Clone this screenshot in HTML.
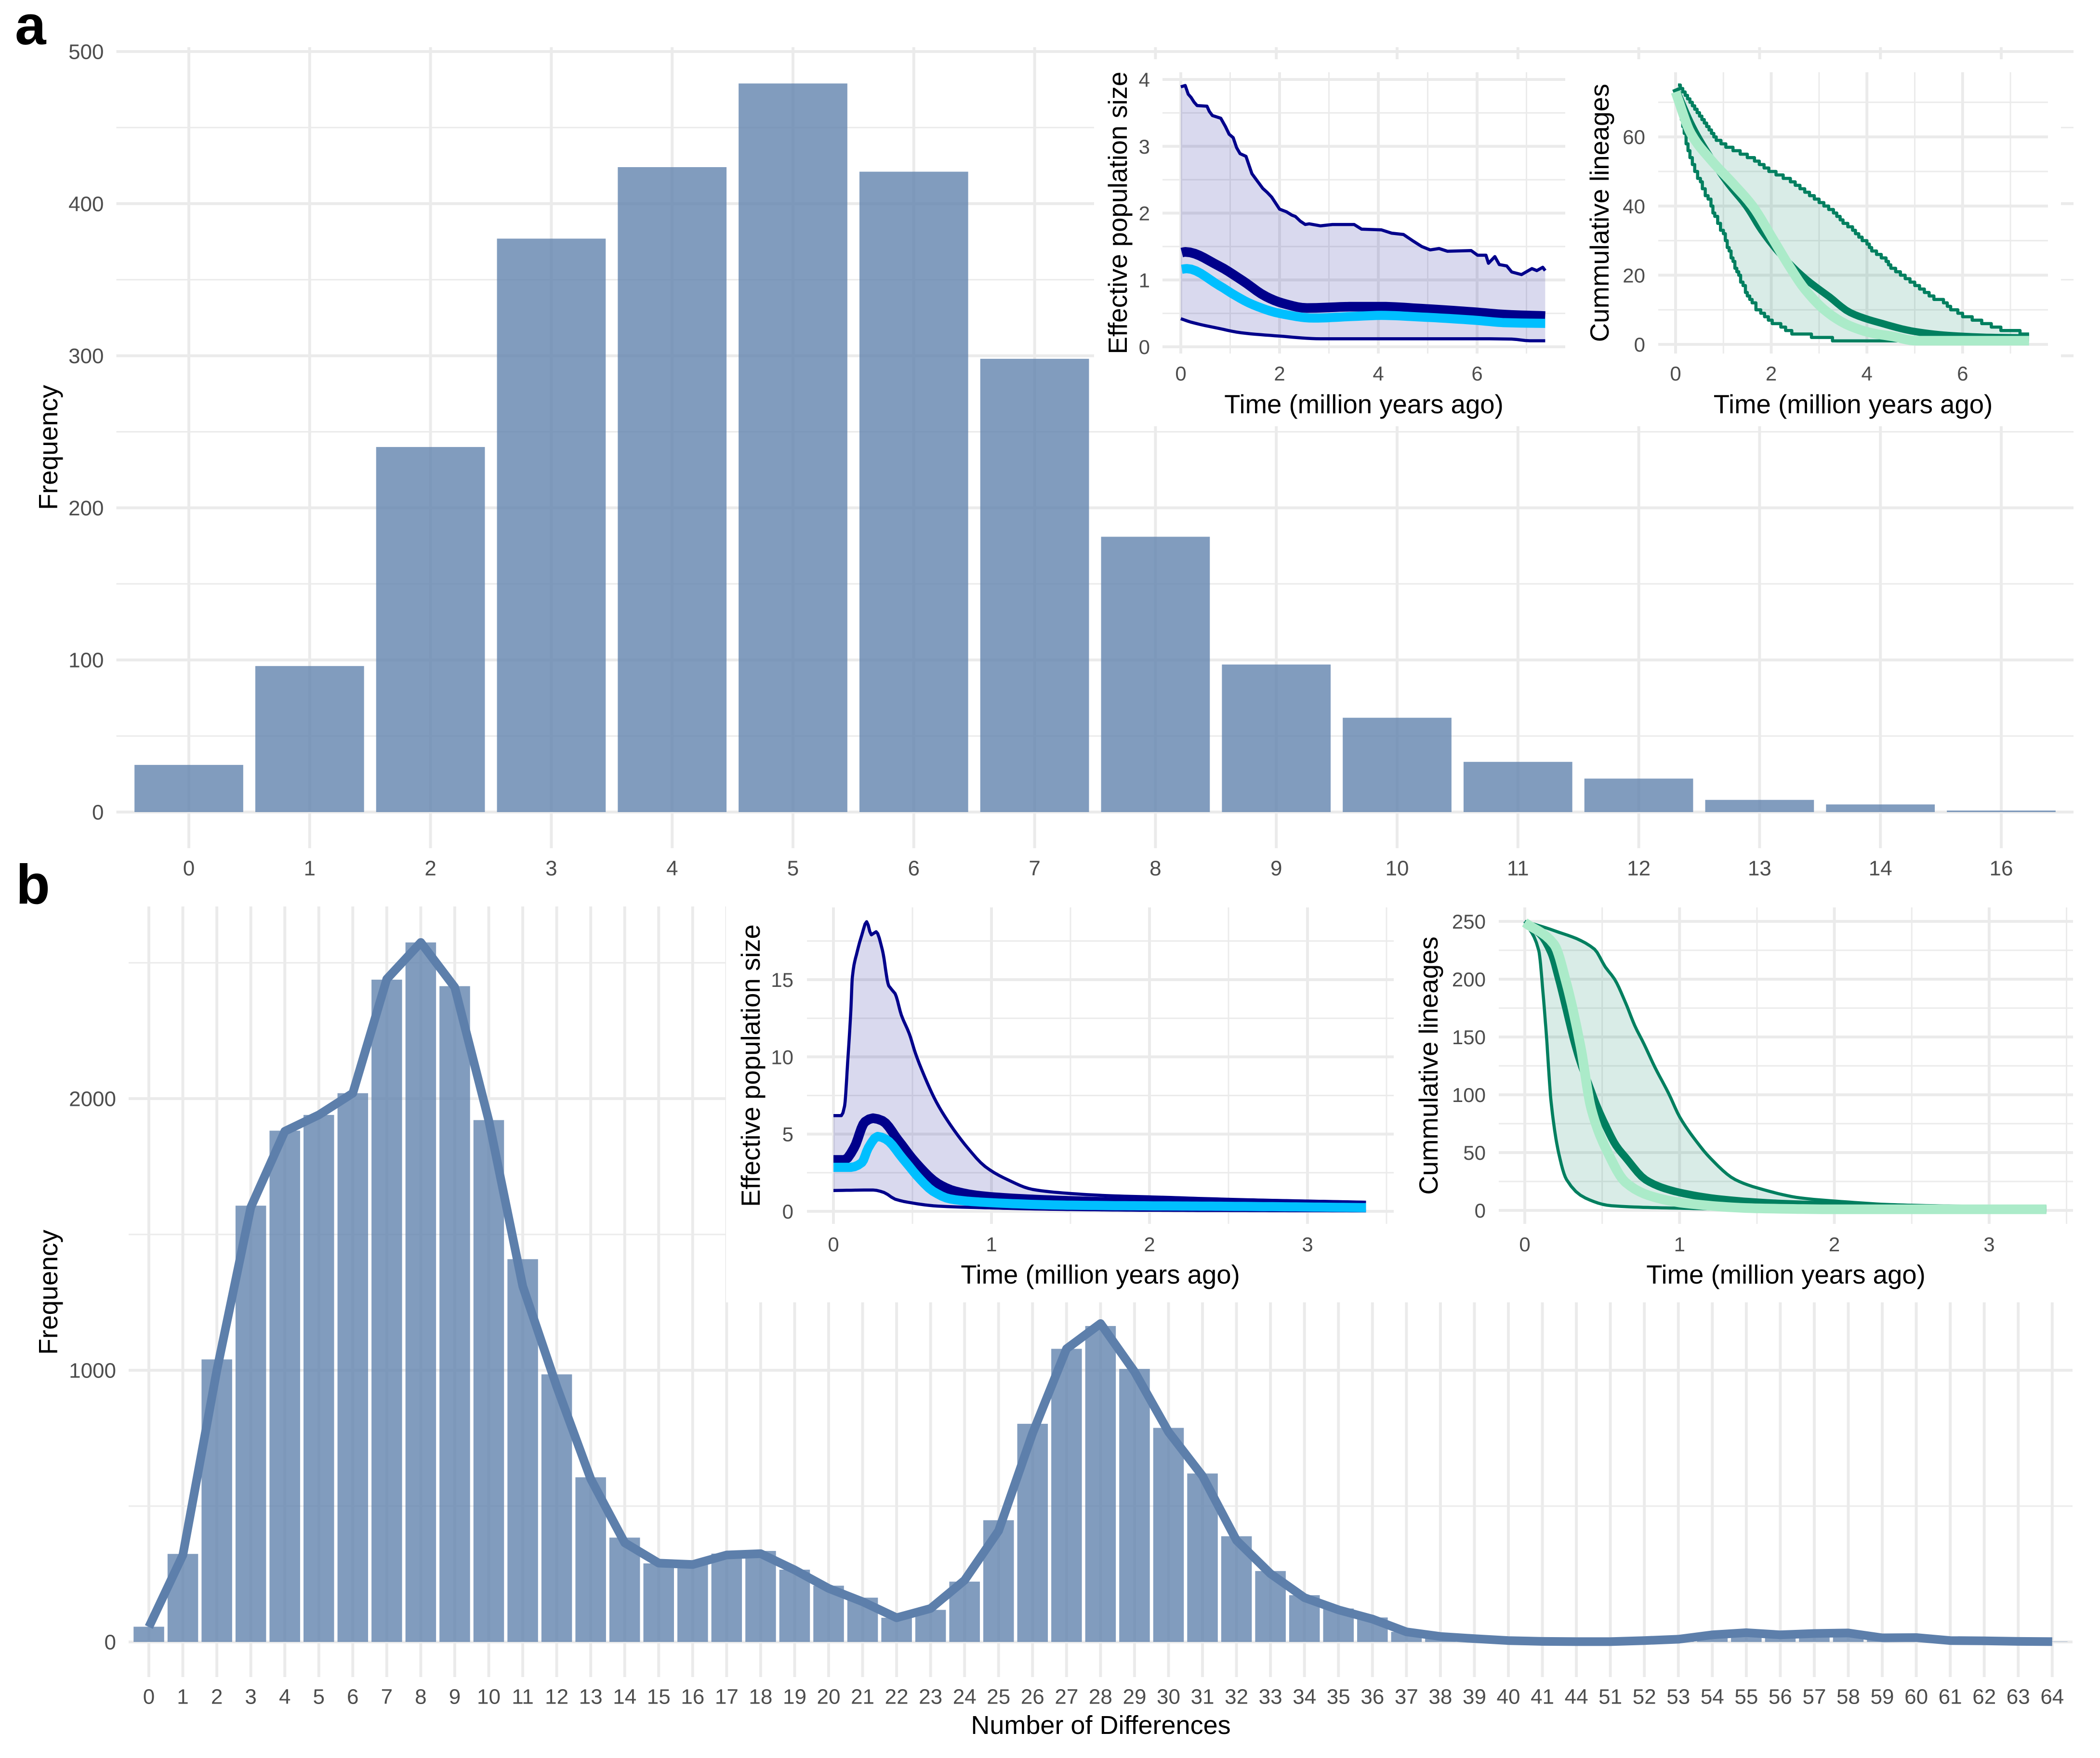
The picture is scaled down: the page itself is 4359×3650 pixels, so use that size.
<!DOCTYPE html>
<html lang="en">
<head>
<meta charset="utf-8">
<title>Pairwise differences and demographic insets</title>
<style>
html,body{margin:0;padding:0;background:#fff;}
svg{display:block;font-family:"Liberation Sans",Arial,sans-serif;}
</style>
</head>
<body>
<svg id="figure" xmlns="http://www.w3.org/2000/svg" width="4359" height="3650" viewBox="0 0 4359 3650">
<rect x="0" y="0" width="4359" height="3650" fill="#fff"/>
</svg>
<script>
// ---------- Panel a: main histogram ----------
const aCategories = ['0','1','2','3','4','5','6','7','8','9','10','11','12','13','14','16'];
const aBars = [31,96,240,377,424,479,421,298,181,97,62,33,22,8,5,1];
const aYTicks = [0,100,200,300,400,500];
const aYMinor = [50,150,250,350,450];

// ---------- Panel b: main histogram ----------
const bCategories = ['0','1','2','3','4','5','6','7','8','9','10','11','12','13','14','15','16','17','18','19','20','21','22','23','24','25','26','27','28','29','30','31','32','33','34','35','36','37','38','39','40','41','44','51','52','53','54','55','56','57','58','59','60','61','62','63','64'];
const bBars = [56,324,1040,1606,1882,1940,2020,2438,2575,2414,1921,1409,985,606,384,289,286,325,335,266,207,163,89,118,222,448,803,1079,1163,1005,788,620,389,261,172,123,90,37,17,11,5,2,1,1,5,10,24,34,27,31,33,15,16,5,4,2,1];
const bLine = [55,320,1000,1600,1880,1940,2020,2440,2575,2410,1920,1310,940,600,365,290,285,320,325,265,197,148,89,123,227,409,768,1079,1172,995,773,611,374,251,163,118,84,37,20,12,5,2,1,1,5,10,26,34,26,31,33,15,16,5,4,2,1];
const bYTicks = [0,1000,2000];
const bYMinor = [500,1500,2500];

// ---------- Inset a, effective population size ----------
const a1UpperT = [0,.09,.15,.21,.27,.33,.53,.58,.64,.81,.9,.98,1.06,1.13,1.2,1.32,1.38,1.44,1.55,1.66,1.75,1.84,2,2.14,2.25,2.32,2.42,2.52,2.6,2.83,3.07,3.3,3.51,3.66,4.06,4.27,4.51,4.71,4.88,5.05,5.23,5.4,5.88,6.01,6.18,6.23,6.36,6.45,6.6,6.7,6.9,7.11,7.21,7.33,7.38];
const a1UpperV = [3.89,3.91,3.78,3.73,3.66,3.61,3.6,3.52,3.46,3.42,3.3,3.18,3.13,2.98,2.89,2.85,2.72,2.59,2.48,2.37,2.31,2.24,2.06,2.02,1.97,1.95,1.88,1.83,1.84,1.81,1.83,1.83,1.83,1.76,1.75,1.7,1.68,1.58,1.5,1.45,1.47,1.43,1.44,1.37,1.37,1.25,1.35,1.23,1.21,1.12,1.08,1.17,1.14,1.19,1.14];
const a1LowerT = [0,.2,.77,1.22,2,2.83,4,5,6,6.7,7.07,7.38];
const a1LowerV = [.42,.37,.275,.21,.16,.12,.12,.12,.12,.115,.09,.09];
const a1MedianT = [.02,.09,.77,1.25,1.73,2.07,2.55,3.51,4.06,4.88,5.91,6.6,7.38];
const a1MedianV = [1.41,1.42,1.21,.99,.75,.65,.58,.6,.6,.57,.52,.48,.46];
const a1TrueT = [.02,.12,.77,1.12,1.46,2,2.69,3.51,4.06,4.88,5.91,6.6,7.38];
const a1TrueV = [1.16,1.17,.92,.76,.63,.5,.43,.455,.47,.445,.4,.36,.35];

// ---------- Inset a, cumulative lineages ----------
const a2UpperT = [.05,.1,.15,.2,.25,.3,.35,.4,.45,.5,.55,.6,.65,.7,.75,.8,.85,.95,1.05,1.2,1.35,1.5,1.65,1.75,1.85,1.95,2.1,2.25,2.4,2.5,2.6,2.7,2.8,2.9,3,3.1,3.2,3.3,3.37,3.44,3.5,3.6,3.7,3.76,3.83,3.9,4,4.05,4.1,4.2,4.3,4.4,4.45,4.5,4.6,4.7,4.8,4.9,5,5.1,5.2,5.3,5.4,5.6,5.68,5.75,5.9,6,6.2,6.4,6.6,6.8,7.2,7.39];
const a2UpperV = [75,74,73,72,71,70,69,68,67,66,65,64,63,62,61,60,59,58,57,56,55,54,53,52,51,50,49,48,47,46,45,44,43,42,41,40,39,38,37,36,35,34,33,32,31,30,29,28,27,26,25,24,23,22,21,20,19,18,17,16,15,14,13,12,11,10,9,8,7,6,5,4,3,3];
const a2LowerT = [0,.03,.06,.09,.12,.15,.18,.22,.26,.3,.35,.4,.46,.52,.56,.62,.68,.74,.78,.82,.88,.94,1,1.04,1.08,1.12,1.16,1.2,1.24,1.28,1.32,1.36,1.41,1.46,1.5,1.55,1.6,1.68,1.78,1.86,1.94,2.02,2.2,2.3,2.43,2.84,3.28,5];
const a2LowerV = [73,71,69,67,65,63,61,58,56,54,52,50,48,47,45,43,42,40,38,37,35,33,32,30,28,27,25,24,22,21,20,18,17,15,14,13,12,10,9,8,7,6,5,4,3,2,1,1];
const a2MedianT = [0,.35,.73,1.1,1.48,1.8,2.16,2.73,3.21,3.65,4.33,5.01,5.7,6.7,7.39];
const a2MedianV = [74,63,54,46.5,40,33,26.6,18.8,13.8,9.2,6,3.7,2.6,2,1.9];
const a2TrueT = [0,.32,.73,1.2,1.61,2.02,2.36,2.7,3.18,3.65,4.13,4.54,5.01,7.39];
const a2TrueV = [73,61,53.5,46.5,40,30.8,23,16,9.2,5.3,3.2,2.3,1.06,1.06];

// ---------- Inset b, effective population size ----------
const b1UpperT = [0,.05,.07,.09,.11,.12,.15,.18,.21,.24,.27,.31,.35,.39,.43,.48,.52,.58,.65,.74,.85,.96,1.1,1.26,1.48,1.75,2.02,2.57,3.37];
const b1UpperV = [6.2,6.2,6.8,9.66,13,15.2,16.8,17.9,18.75,17.9,18.1,16.9,14.6,14.1,12.7,11.5,10.2,8.65,7.1,5.6,4.1,2.9,2.06,1.42,1.17,1.01,.93,.76,.59];
const b1LowerT = [0,.25,.32,.39,.47,.66,.93,1.48,2,3.37];
const b1LowerV = [1.35,1.38,1.22,.79,.59,.34,.24,.12,.07,.03];
const b1MedianT = [0,.07,.13,.2,.25,.31,.41,.52,.66,.77,.93,1.2,1.75,2.57,3.37];
const b1MedianV = [3.33,3.33,4.1,5.8,6.03,5.86,4.6,3.16,1.8,1.3,1,.8,.6,.42,.34];
const b1TrueT = [0,.11,.18,.22,.28,.33,.44,.55,.63,.74,.93,1.48,2.57,3.37];
const b1TrueV = [2.85,2.85,3.16,4.1,4.85,4.68,3.4,2.06,1.3,.8,.6,.4,.32,.24];

// ---------- Inset b, cumulative lineages ----------
const b2UpperT = [0,.19,.45,.52,.58,.65,.71,.77,.84,.93,1,1.09,1.2,1.36,1.55,1.78,2.07,2.36,2.65,3,3.37];
const b2UpperV = [250,242,226,210.6,200,180,160,144,124,101,81,63,45,26.6,17.6,10.8,7.4,5,4,3.4,3];
const b2LowerT = [0,.09,.12,.14,.17,.22,.27,.39,.56,1.03,1.49,3.37];
const b2LowerV = [250,225,184.6,150.8,94,49,26.6,10.8,4,1.8,.7,.5];
const b2MedianT = [0,.1,.17,.22,.27,.32,.36,.41,.46,.52,.59,.65,.78,.91,1.06,1.26,1.63,2.07,2.36,2.65,3.37];
const b2MedianV = [249,239,223,200,173,146,128,110,92,74,56,46,26.6,18.7,13.8,9.7,6,4.1,2.6,1.5,1];
const b2TrueT = [0,.19,.27,.36,.43,.54,.65,.8,1.03,1.49,2.07,3.37];
const b2TrueV = [249,230,196,142,87.6,49,24.4,13,6.3,1.8,.9,.9];

const SVGNS = 'http://www.w3.org/2000/svg';
const root = document.getElementById('figure');
const GRID = '#ebebeb';
const BARFILL = '#5b7eab';
const LINEC = '#5d7fab';
const TICKC = '#4d4d4d';

function mk(parent, tag, name, props) {
  const el = document.createElementNS(SVGNS, tag);
  
  
  for (const k in props) el.setAttribute(k, props[k]);
  parent.appendChild(el);
  return el;
}
function txt(parent, name, str, x, y, size, fill, anchor, weight, rot) {
  const t = mk(parent, 'text', name, {x: x, y: y, 'font-size': size, fill: fill, 'text-anchor': anchor});
  if (weight) t.setAttribute('font-weight', weight);
  if (rot) t.setAttribute('transform', 'rotate(-90 ' + x + ' ' + y + ')');
  t.textContent = str;
  return t;
}
function hline(g, name, y, x0, x1, w) { mk(g, 'line', name, {x1: x0, x2: x1, y1: y, y2: y, stroke: GRID, 'stroke-width': w}); }
function vline(g, name, x, y0, y1, w) { mk(g, 'line', name, {x1: x, x2: x, y1: y0, y2: y1, stroke: GRID, 'stroke-width': w}); }

function pts(ts, vs, sx, sy) { return ts.map((t, i) => sx(t).toFixed(1) + ',' + sy(vs[i]).toFixed(1)); }
function stepPts(ts, vs, sx, sy) {
  const out = [];
  ts.forEach((t, i) => {
    if (i > 0) out.push(sx(t).toFixed(1) + ',' + sy(vs[i - 1]).toFixed(1));
    out.push(sx(t).toFixed(1) + ',' + sy(vs[i]).toFixed(1));
  });
  return out;
}
// Monotone cubic curve drawn through the read values (no overshoot)
function curvePts(ts, vs, sx, sy) {
  const X = ts.map(sx), Y = vs.map(sy), n = X.length;
  const d = [], m = new Array(n);
  for (let i = 0; i < n - 1; i++) d.push((Y[i + 1] - Y[i]) / (X[i + 1] - X[i]));
  m[0] = d[0]; m[n - 1] = d[n - 2];
  for (let i = 1; i < n - 1; i++) {
    if (d[i - 1] * d[i] <= 0) { m[i] = 0; continue; }
    const a = X[i + 1] - X[i], b = X[i] - X[i - 1];
    m[i] = 3 * (a + b) / ((2 * a + b) / d[i - 1] + (a + 2 * b) / d[i]);
  }
  const out = [];
  for (let i = 0; i < n - 1; i++) {
    const h = X[i + 1] - X[i];
    const steps = Math.max(2, Math.ceil(Math.max(h, Math.abs(Y[i + 1] - Y[i])) / 10));
    for (let k = 0; k < steps; k++) {
      const s = k / steps, s2 = s * s, s3 = s2 * s;
      const y = (2 * s3 - 3 * s2 + 1) * Y[i] + (s3 - 2 * s2 + s) * h * m[i] + (-2 * s3 + 3 * s2) * Y[i + 1] + (s3 - s2) * h * m[i + 1];
      out.push((X[i] + s * h).toFixed(1) + ',' + y.toFixed(1));
    }
  }
  out.push(X[n - 1].toFixed(1) + ',' + Y[n - 1].toFixed(1));
  return out;
}
function series(g, name, p, color, w) {
  mk(g, 'polyline', name, {points: p.join(' '), fill: 'none', stroke: color, 'stroke-width': w, 'stroke-linejoin': 'round', 'stroke-linecap': 'butt'});
}

function mainHist(cfg) {
  const g = mk(root, 'g', cfg.name, {});
  const sx = i => cfg.x0 + i * cfg.band;
  const sy = v => cfg.y0 - v * cfg.pxPerUnit;
  cfg.yMinor.forEach(v => hline(g, 'y-minor-gridline', sy(v), cfg.left, cfg.right, 3));
  cfg.yTicks.forEach(v => hline(g, 'y-major-gridline', sy(v), cfg.left, cfg.right, 6));
  cfg.categories.forEach((c, i) => vline(g, 'x-gridline', sx(i), cfg.top, cfg.bottom, 6));
  cfg.bars.forEach((v, i) => {
    const w = cfg.band * 0.9;
    mk(g, 'rect', 'bar-' + cfg.categories[i], {x: sx(i) - w / 2, y: sy(v), width: w, height: cfg.y0 - sy(v), fill: BARFILL, 'fill-opacity': 0.77});
  });
  if (cfg.line) series(g, 'frequency-line', cfg.line.map((v, i) => sx(i).toFixed(1) + ',' + sy(v).toFixed(1)), LINEC, 18);
  cfg.yTicks.forEach(v => txt(g, 'y-tick-label', String(v), cfg.left - 26, sy(v) + 15.5, 44, TICKC, 'end'));
  cfg.categories.forEach((c, i) => txt(g, 'x-tick-label', c, sx(i), cfg.xLabelY + 15.5, 44, TICKC, 'middle'));
  txt(g, 'y-axis-title', 'Frequency', 119, cfg.titleY, 55, '#000', 'middle', null, true);
}

function inset(cfg) {
  const g = mk(root, 'g', cfg.name, {});
  const sx = t => cfg.x0 + t * cfg.xu;
  const sy = v => cfg.y0 - v * cfg.yu;
  cfg.yMinor.forEach(v => hline(g, 'inset-y-minor-gridline', sy(v), cfg.left, cfg.right, 3));
  cfg.yMajor.forEach(v => hline(g, 'inset-y-major-gridline', sy(v), cfg.left, cfg.right, 6));
  cfg.xMinor.forEach(t => vline(g, 'inset-x-minor-gridline', sx(t), cfg.top, cfg.bottom, 3));
  cfg.xMajor.forEach(t => vline(g, 'inset-x-major-gridline', sx(t), cfg.top, cfg.bottom, 6));
  const make = cfg.step ? stepPts : (cfg.jagged ? pts : curvePts);
  const up = make(cfg.upperT, cfg.upperV, sx, sy);
  const lo = cfg.step ? stepPts(cfg.lowerT, cfg.lowerV, sx, sy) : curvePts(cfg.lowerT, cfg.lowerV, sx, sy);
  mk(g, 'polygon', 'credible-interval-ribbon', {points: up.concat(lo.slice().reverse()).join(' '), fill: cfg.dark, 'fill-opacity': 0.15});
  series(g, 'upper-bound-line', up, cfg.dark, 6.5);
  series(g, 'lower-bound-line', lo, cfg.dark, 6.5);
  series(g, 'median-line', curvePts(cfg.medT, cfg.medV, sx, sy), cfg.dark, cfg.medW);
  series(g, 'comparison-line', curvePts(cfg.trueT, cfg.trueV, sx, sy), cfg.light, cfg.lightW);
  cfg.yMajor.forEach(v => txt(g, 'inset-y-tick-label', String(v), cfg.tickRight, sy(v) + 15, 42, TICKC, 'end'));
  cfg.xMajor.forEach(t => txt(g, 'inset-x-tick-label', String(t), sx(t), cfg.xLabelY + 15, 42, TICKC, 'middle'));
  txt(g, 'inset-x-axis-title', 'Time (million years ago)', (cfg.left + cfg.right) / 2, cfg.xTitleY + 18, 54.5, '#000', 'middle');
  txt(g, 'inset-y-axis-title', cfg.yTitle, cfg.yTitleX + 19, (cfg.top + cfg.bottom) / 2, 54.5, '#000', 'middle', null, true);
}

// Panel a main
mainHist({name: 'panel-a-histogram', categories: aCategories, bars: aBars, yTicks: aYTicks, yMinor: aYMinor,
  x0: 392, band: 250.8, y0: 1686, pxPerUnit: 3.158, left: 241.5, right: 4304, top: 98, bottom: 1761, xLabelY: 1802, titleY: 929});
mk(root, 'rect', 'panel-a-inset-background', {x: 2271, y: 123, width: 2007, height: 762, fill: '#fff'});
inset({name: 'panel-a-population-inset', jagged: true, x0: 2451, xu: 102.5, y0: 720, yu: 138.75, left: 2413, right: 3249, top: 150, bottom: 734,
  xMajor: [0,2,4,6], xMinor: [1,3,5,7], yMajor: [0,1,2,3,4], yMinor: [.5,1.5,2.5,3.5],
  upperT: a1UpperT, upperV: a1UpperV, lowerT: a1LowerT, lowerV: a1LowerV, medT: a1MedianT, medV: a1MedianV, trueT: a1TrueT, trueV: a1TrueV,
  dark: '#00008b', light: '#00bfff', medW: 20, lightW: 19, tickRight: 2387, xLabelY: 775, xTitleY: 840, yTitle: 'Effective population size', yTitleX: 2320});
inset({name: 'panel-a-lineages-inset', step: true, x0: 3478, xu: 99.3, y0: 715, yu: 7.18, left: 3442, right: 4251, top: 150, bottom: 734,
  xMajor: [0,2,4,6], xMinor: [1,3,5,7], yMajor: [0,20,40,60], yMinor: [10,30,50,70],
  upperT: a2UpperT, upperV: a2UpperV, lowerT: a2LowerT, lowerV: a2LowerV, medT: a2MedianT, medV: a2MedianV, trueT: a2TrueT, trueV: a2TrueV,
  dark: '#007f5f', light: '#abebc9', medW: 15, lightW: 20, tickRight: 3415, xLabelY: 775, xTitleY: 840, yTitle: 'Cummulative lineages', yTitleX: 3320});

// Panel b main
mainHist({name: 'panel-b-histogram', categories: bCategories, bars: bBars, line: bLine, yTicks: bYTicks, yMinor: bYMinor,
  x0: 309, band: 70.55, y0: 3409, pxPerUnit: 0.564, left: 267, right: 4302, top: 1882, bottom: 3482, xLabelY: 3522, titleY: 2683});
txt(root, 'x-axis-title', 'Number of Differences', 2285, 3600, 54, '#000', 'middle');
mk(root, 'rect', 'panel-b-inset-background', {x: 1507, y: 1870, width: 2800, height: 834, fill: '#fff'});
inset({name: 'panel-b-population-inset', x0: 1730, xu: 328, y0: 2515, yu: 32.07, left: 1675, right: 2893, top: 1884, bottom: 2541,
  xMajor: [0,1,2,3], xMinor: [.5,1.5,2.5,3.5], yMajor: [0,5,10,15], yMinor: [2.5,7.5,12.5,17.5],
  upperT: b1UpperT, upperV: b1UpperV, lowerT: b1LowerT, lowerV: b1LowerV, medT: b1MedianT, medV: b1MedianV, trueT: b1TrueT, trueV: b1TrueV,
  dark: '#00008b', light: '#00bfff', medW: 20, lightW: 19, tickRight: 1647, xLabelY: 2583, xTitleY: 2647, yTitle: 'Effective population size', yTitleX: 1558});
inset({name: 'panel-b-lineages-inset', x0: 3165, xu: 321.3, y0: 2513, yu: 2.4, left: 3111, right: 4303, top: 1884, bottom: 2541,
  xMajor: [0,1,2,3], xMinor: [.5,1.5,2.5,3.5], yMajor: [0,50,100,150,200,250], yMinor: [25,75,125,175,225],
  upperT: b2UpperT, upperV: b2UpperV, lowerT: b2LowerT, lowerV: b2LowerV, medT: b2MedianT, medV: b2MedianV, trueT: b2TrueT, trueV: b2TrueV,
  dark: '#007f5f', light: '#abebc9', medW: 16, lightW: 20, tickRight: 3084, xLabelY: 2583, xTitleY: 2647, yTitle: 'Cummulative lineages', yTitleX: 2965});

// Panel letters
txt(root, 'panel-label-a', 'a', 31, 92, 116, '#000', 'start', 'bold');
txt(root, 'panel-label-b', 'b', 33, 1876, 116, '#000', 'start', 'bold');
</script>
</body>
</html>
